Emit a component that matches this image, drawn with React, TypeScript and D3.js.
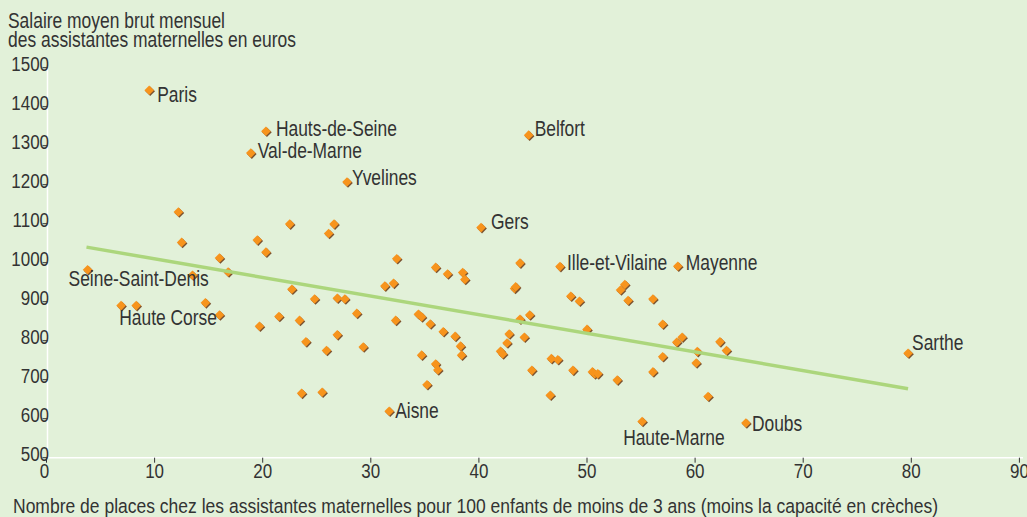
import React from "react";
import { scaleLinear } from "d3";

// Départements with a label
const labelledNames = [
  "Paris", "Hauts-de-Seine", "Val-de-Marne", "Belfort", "Yvelines", "Gers",
  "Seine-Saint-Denis", "Haute Corse", "Aisne", "Ille-et-Vilaine", "Mayenne",
  "Haute-Marne", "Doubs", "Sarthe",
];
const labelledPlaces = [9.5, 20.3, 18.9, 44.6, 27.8, 40.2, 3.8, 8.3, 31.7, 47.5, 58.4, 55.1, 64.7, 79.7];
const labelledSalaries = [1442, 1337, 1281, 1327, 1207, 1090, 982, 890, 619, 990, 991, 593, 589, 768];

// Other départements
const otherPlaces = [
  12.2, 12.5, 16.0, 16.8, 13.5, 6.9, 14.7, 16.0, 22.5, 26.6,
  26.1, 19.5, 20.3, 32.4, 36.0, 37.1, 38.5, 38.7, 22.7, 31.3,
  32.1, 24.8, 26.9, 27.6, 28.7, 21.5, 23.4, 19.7, 32.3, 34.4,
  34.7, 35.5, 36.7, 37.8, 38.3, 38.4, 26.9, 24.0, 25.9, 29.3,
  34.7, 36.0, 36.2, 35.2, 23.6, 25.5, 43.8, 43.3, 43.4, 48.5,
  49.3, 53.5, 53.1, 53.8, 44.7, 43.8, 50.0, 42.8, 44.2, 42.6,
  42.0, 42.2, 44.9, 46.7, 47.3, 48.7, 50.5, 50.7, 51.0, 52.8,
  46.6, 56.1, 57.0, 58.8, 58.3, 62.3, 62.9, 60.2, 60.1, 57.0,
  56.1, 61.2,
];
const otherSalaries = [
  1130, 1052, 1012, 976, 968, 890, 897, 866, 1099, 1099,
  1075, 1058, 1027, 1010, 988, 971, 975, 957, 932, 940,
  947, 907, 909, 907, 870, 862, 852, 837, 852, 868,
  861, 843, 823, 811, 786, 763, 815, 797, 775, 784,
  763, 740, 725, 687, 665, 668, 999, 934, 938, 914,
  901, 944, 930, 903, 866, 855, 829, 817, 809, 794,
  773, 766, 724, 754, 751, 724, 720, 715, 715, 699,
  660, 907, 842, 809, 796, 797, 775, 772, 743, 759,
  720, 657,
];

// Regression line end points
const trendPlaces = [3.7, 79.7];
const trendSalaries = [1040, 677];

const xTicks = [0, 10, 20, 30, 40, 50, 60, 70, 80, 90];
const yTicks = [500, 600, 700, 800, 900, 1000, 1100, 1200, 1300, 1400, 1500];

// label placement relative to the marker (dx, dy)
const labelOffsets: Record<string, [number, number]> = {
  Paris: [8, 4],
  "Hauts-de-Seine": [10, -3],
  "Val-de-Marne": [7, -3],
  Belfort: [6, -7],
  Yvelines: [5, -5],
  Gers: [10, -6],
  "Seine-Saint-Denis": [-19, 9],
  "Haute Corse": [-17, 12],
  Aisne: [6, -1],
  "Ille-et-Vilaine": [7, -4],
  Mayenne: [8, -4],
  "Haute-Marne": [-19, 16],
  Doubs: [6, 0],
  Sarthe: [4, -11],
};

const W = 1027;
const H = 517;
const FONT = "'Liberation Sans', Arial, sans-serif";
const TEXT = "#333333";
const BG = "#e2f1d9";
const ORANGE = "#f7941d";
const SHADOW = "#7a5230";
const GREEN = "#acd67c";

// text squeezed horizontally, like a narrow typeface
function NText({
  x, y, size, anchor = "start", squeeze = 0.81, children,
}: {
  x: number; y: number; size: number; anchor?: string; squeeze?: number; children: React.ReactNode;
}) {
  return (
    <text
      transform={`translate(${x},${y}) scale(${squeeze},1)`}
      textAnchor={anchor}
      dominantBaseline="central"
      fontSize={size}
      fill={TEXT}
    >
      {children}
    </text>
  );
}

function Diamond({ x, y }: { x: number; y: number }) {
  const r = 4.8;
  const pts = (cx: number, cy: number) =>
    `${cx},${cy - r} ${cx + r},${cy} ${cx},${cy + r} ${cx - r},${cy}`;
  return (
    <g>
      <polygon points={pts(x + 1, y + 1)} fill={SHADOW} />
      <polygon points={pts(x, y)} fill={ORANGE} />
    </g>
  );
}

export default function App() {
  const x = scaleLinear().domain([0, 90]).range([46.5, 1019.4]);
  const y = scaleLinear().domain([500, 1500]).range([457.7, 67.7]);

  return (
    <svg
      width={W}
      height={H}
      style={{ position: "absolute", left: 0, top: 0, fontFamily: FONT }}
    >
      <rect width={W} height={H} fill={BG} />

      {/* Axis title */}
      <text x={8} y={27.5} fontSize={21.5} fill={TEXT} textLength={217} lengthAdjust="spacingAndGlyphs">
        Salaire moyen brut mensuel
      </text>
      <text x={8} y={47} fontSize={21.5} fill={TEXT} textLength={288} lengthAdjust="spacingAndGlyphs">
        des assistantes maternelles en euros
      </text>

      {/* Axes */}
      <line x1={x(0) + 1} x2={x(0) + 1} y1={y(1500)} y2={y(500)} stroke="#ffffff" strokeWidth={1.5} />
      <line x1={x(0)} x2={W - 4} y1={y(500)} y2={y(500)} stroke="#ffffff" strokeWidth={1.5} />

      {yTicks.map((t) => (
        <g key={t}>
          <NText x={x(0) + 2.5} y={y(t) - 4} size={19.5} squeeze={0.87} anchor="end">
            {t}
          </NText>
          <line x1={x(0) - 4} x2={x(0) + 1} y1={y(t)} y2={y(t)} stroke={TEXT} strokeWidth={1} />
        </g>
      ))}

      {xTicks.map((t) => (
        <g key={t}>
          <line x1={x(t)} x2={x(t)} y1={y(500)} y2={y(500) + 5} stroke={TEXT} strokeWidth={1} />
          <NText x={x(t) - (t === 0 ? 2 : 0)} y={471} size={19.5} squeeze={0.87} anchor="middle">
            {t}
          </NText>
        </g>
      ))}

      <text
        x={13}
        y={505}
        dominantBaseline="central"
        fontSize={20.5}
        fill={TEXT}
        textLength={925}
        lengthAdjust="spacingAndGlyphs"
      >
        Nombre de places chez les assistantes maternelles pour 100 enfants de moins de 3 ans (moins la capacité en crèches)
      </text>

      {/* Points */}
      {otherPlaces.map((p, i) => (
        <Diamond key={`o${i}`} x={x(p)} y={y(otherSalaries[i])} />
      ))}
      {labelledPlaces.map((p, i) => (
        <Diamond key={`l${i}`} x={x(p)} y={y(labelledSalaries[i])} />
      ))}

      {/* Trend line */}
      <line
        x1={x(trendPlaces[0])}
        y1={y(trendSalaries[0])}
        x2={x(trendPlaces[1])}
        y2={y(trendSalaries[1])}
        stroke={GREEN}
        strokeWidth={3.5}
      />

      {/* Labels */}
      {labelledNames.map((name, i) => {
        const [dx, dy] = labelOffsets[name];
        return (
          <NText
            key={name}
            x={x(labelledPlaces[i]) + dx}
            y={y(labelledSalaries[i]) + dy}
            size={21.5}
          >
            {name}
          </NText>
        );
      })}
    </svg>
  );
}
